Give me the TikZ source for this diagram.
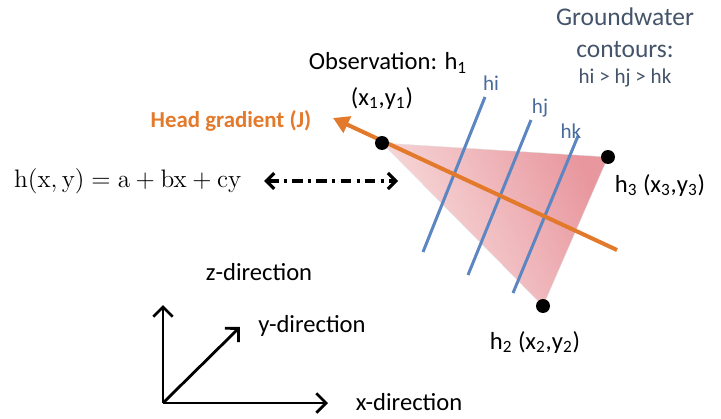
\documentclass[tikz,border=0pt]{standalone}
\usepackage[no-math]{fontspec}
\setmainfont{Carlito}
\usetikzlibrary{arrows.meta,positioning}
\definecolor{gradorange}{HTML}{E2792B}
\definecolor{contourblue}{HTML}{5B86C2}
\definecolor{titleblue}{HTML}{44546A}
\definecolor{trilight}{HTML}{F9E2E2}
\definecolor{tridark}{HTML}{E8979E}

\begin{document}
\begin{tikzpicture}[x=0.02cm, y=-0.02cm,
    txt/.style={font=\fontsize{14}{17}\selectfont, inner sep=0pt},
    contourtxt/.style={font=\fontsize{12}{14}\selectfont, text=contourblue!80!black, inner sep=0pt},
    well/.style={circle, fill=black, inner sep=0pt, minimum size=0.28cm},
    contour/.style={line width=1.7pt, color=contourblue},
    axis/.style={-{Straight Barb[length=5.5pt,width=11pt]}, line width=1.6pt},
    dasharrow/.style={{Straight Barb[length=4.5pt,width=9pt]}-{Straight Barb[length=4.5pt,width=9pt]}, line width=1.8pt, dash pattern=on 6pt off 3pt on 1.8pt off 3pt}
]
\useasboundingbox (0,0) rectangle (721,419);

% observation points and triangle
\coordinate (p1) at (382,143);
\coordinate (p2) at (543,306);
\coordinate (p3) at (608,157);
\shade[left color=trilight, right color=tridark, shading angle=115, draw=black!12, very thin] (p1) -- (p3) -- (p2) -- cycle;

% groundwater contours
\draw[contour] (423,252) -- (485,97);
\draw[contour] (468,275) -- (531,120);
\draw[contour] (513,293) -- (578,136);
\node[contourtxt] (hi) at (491,83) {hi};
\node[contourtxt] (hj) at (540,108) {hj};
\node[contourtxt] (hk) at (571,131) {hk};

% head gradient
\coordinate (gradstart) at (617,250);
\coordinate (gradtip) at (333,118);
\draw[-{Triangle[length=9pt,width=10pt]}, line width=2.3pt, gradorange] (gradstart) -- (gradtip);
\node[txt, font=\fontsize{13}{15}\selectfont\bfseries, text=gradorange] (gradlbl) at (231,121) {Head gradient (J)};

\node[well] (h1) at (p1) {};
\node[well] (h2) at (p2) {};
\node[well] (h3) at (p3) {};
\node[txt] (obs) at (388,63) {Observation: h\textsubscript{1}};
\node[txt] (xy1) at (382,98) {(x\textsubscript{1},y\textsubscript{1})};
\node[txt] (xy3) at (660,185) {h\textsubscript{3} (x\textsubscript{3},y\textsubscript{3})};
\node[txt] (xy2) at (535,342) {h\textsubscript{2} (x\textsubscript{2},y\textsubscript{2})};

% legend
\node[txt, font=\fontsize{14.5}{18}\selectfont, text=titleblue, align=center] (title) at (625,33) {Groundwater\\contours:};
\node[txt, font=\fontsize{12}{14}\selectfont, text=titleblue] (order) at (625,78) {hi > hj > hk};

% plane equation
\node[inner sep=0pt, font=\fontsize{14.5}{17}\selectfont] (eq) at (128,181) {$\mathrm{h(x,y) = a + bx + cy}$};
\coordinate (eqend) at (398,181);
\draw[dasharrow] ([xshift=0.44cm]eq.east) -- (eqend);

% axes
\coordinate (origin) at (163,403);
\coordinate (zend) at (163,305);
\coordinate (yend) at (240,327);
\coordinate (xend) at (328,403);
\draw[axis] (origin) -- (zend);
\draw[axis] (origin) -- (yend);
\draw[axis] (origin) -- (xend);
\node[txt] (zlbl) at (259,272) {z-direction};
\node[txt] (ylbl) at (312,326) {y-direction};
\node[txt] (xlbl) at (409,402) {x-direction};
\end{tikzpicture}
\end{document}
